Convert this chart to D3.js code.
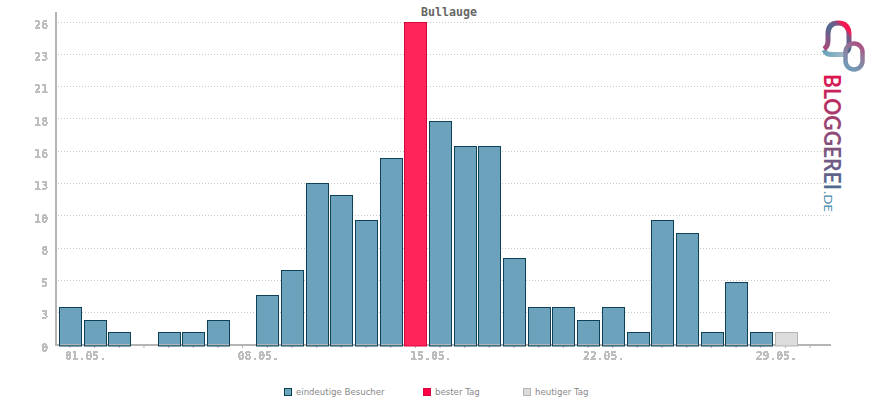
<!DOCTYPE html>
<html>
<head>
<meta charset="utf-8">
<script src="https://cdn.jsdelivr.net/npm/d3@7"></script>
<style>
    html, body { margin: 0; padding: 0; background: #fff; }
    svg { display: block; }
</style>
</head>
<body>
<svg id="chart" width="870" height="400"></svg>
<script>
const width = 870;
const height = 400;

const days = d3.range(1, 32);
const visitors = [3, 2, 1, 0, 1, 1, 2, 0, 4, 6, 13, 12, 10, 15, 26, 18, 16, 16, 7, 3, 3, 2, 3, 1, 10, 9, 1, 5, 1, 1, 0];
const yTicks = [0, 2.6, 5.2, 7.8, 10.4, 13, 15.6, 18.2, 20.8, 23.4, 26];
const xLabels = { 1: "01.05.", 8: "08.05.", 15: "15.05.", 22: "22.05.", 29: "29.05." };
const bestDay = 15;
const today = 30;
const legendItems = ["eindeutige Besucher", "bester Tag", "heutiger Tag"];

const colors = {
    normal: ["#6ca2bb", "#0f4256"],
    best: ["#ff2459", "#d3063f"],
    today: ["#dcdcdc", "#b4b4b4"]
};
const kind = d => d === bestDay ? "best" : d === today ? "today" : "normal";
const mono = "DejaVu Sans Mono";

const svg = d3.select("#chart");
const defs = svg.append("defs");

// hard edged text, the original has no antialiasing
const crisp = defs.append("filter")
    .attr("id", "crisp")
    .attr("x", "-10%").attr("y", "-30%")
    .attr("width", "120%").attr("height", "160%");
crisp.append("feComponentTransfer")
    .append("feFuncA")
    .attr("type", "discrete")
    .attr("tableValues", "0 1 1");

const x = d3.scaleBand()
    .domain(days)
    .range([57.6, 822.4])
    .paddingInner(0.12)
    .paddingOuter(0.06);

const y = d3.scaleLinear()
    .domain([0, 26])
    .range([345, 22]);

// Grid
svg.append("g")
    .selectAll("line")
    .data(yTicks.slice(1))
    .enter().append("line")
    .attr("x1", 58)
    .attr("x2", 830)
    .attr("y1", d => Math.floor(y(d)) + 0.5)
    .attr("y2", d => Math.floor(y(d)) + 0.5)
    .attr("stroke", "#c8c8c8")
    .attr("stroke-dasharray", "1,2");

// X axis
const xAxis = svg.append("g")
    .attr("transform", "translate(0,345)")
    .call(d3.axisBottom(x).tickSize(3).tickPadding(4).tickFormat(d => xLabels[d] || ""));
xAxis.select(".domain").remove();
xAxis.selectAll("line").attr("stroke", "#b4b4b4");
xAxis.selectAll("text")
    .attr("text-anchor", "start")
    .attr("dx", -5)
    .attr("fill", "#bebebe")
    .attr("font-size", 11.4)
    .attr("font-weight", "bold")
    .attr("font-family", mono)
    .attr("filter", "url(#crisp)");

svg.append("line")
    .attr("x1", 55).attr("x2", 831)
    .attr("y1", y(0)).attr("y2", y(0))
    .attr("stroke", "#b4b4b4")
    .attr("stroke-width", 2);

// Y axis
const yAxis = svg.append("g")
    .attr("transform", "translate(56,0)")
    .call(d3.axisLeft(y).tickValues(yTicks).tickSize(0).tickPadding(8).tickFormat(d => Math.round(d)));
yAxis.select(".domain").remove();
yAxis.selectAll("text")
    .attr("fill", "#bebebe")
    .attr("font-size", 11.4)
    .attr("font-weight", "bold")
    .attr("dy", "0.55em")
    .attr("font-family", mono)
    .attr("filter", "url(#crisp)");

svg.append("line")
    .attr("x1", 56).attr("x2", 56)
    .attr("y1", 12).attr("y2", 346)
    .attr("stroke", "#b4b4b4")
    .attr("stroke-width", 2);

// Bars
const shown = days.filter((d, i) => visitors[i] > 0);
svg.append("g")
    .selectAll("rect")
    .data(shown)
    .enter().append("rect")
    .attr("x", d => Math.round(x(d)) + 0.5)
    .attr("y", d => Math.floor(y(visitors[d - 1])) + 0.5)
    .attr("width", d => Math.round(x.bandwidth()))
    .attr("height", d => 345.5 - Math.floor(y(visitors[d - 1])))
    .attr("fill", d => colors[kind(d)][0])
    .attr("stroke", d => colors[kind(d)][1]);

// axis shows through at the foot of the bars
svg.append("g")
    .selectAll("line")
    .data(shown.filter(d => kind(d) === "normal"))
    .enter().append("line")
    .attr("x1", d => Math.round(x(d)) + 1)
    .attr("x2", d => Math.round(x(d)) + Math.round(x.bandwidth()))
    .attr("y1", 344.5)
    .attr("y2", 344.5)
    .attr("stroke", "#b4b4b4");

// Title
svg.append("text")
    .attr("x", 449)
    .attr("y", 16)
    .attr("text-anchor", "middle")
    .attr("font-family", mono)
    .attr("font-size", 11.6)
    .attr("font-weight", "bold")
    .attr("fill", "#666")
    .text("Bullauge");

// Legend
const legendX = d3.scaleOrdinal().domain(legendItems).range([284, 423, 523]);
const legendKinds = ["normal", "best", "today"];
const legend = svg.append("g")
    .selectAll("g")
    .data(legendItems)
    .enter().append("g")
    .attr("transform", d => `translate(${legendX(d)},0)`);
legend.append("rect")
    .attr("x", 0.5).attr("y", 388.5)
    .attr("width", 7).attr("height", 7)
    .attr("fill", (d, i) => i === 1 ? "#ff0044" : colors[legendKinds[i]][0])
    .attr("stroke", (d, i) => colors[legendKinds[i]][1]);
legend.append("text")
    .attr("x", 12)
    .attr("y", 395)
    .attr("font-family", "DejaVu Sans")
    .attr("font-size", 8.6)
    .attr("fill", "#888")
    .text(d => d);

// Logo
function gradient(id, x1, y1, x2, y2, stops) {
    const g = defs.append("linearGradient")
        .attr("id", id)
        .attr("gradientUnits", "userSpaceOnUse")
        .attr("x1", x1).attr("y1", y1).attr("x2", x2).attr("y2", y2);
    stops.forEach(s => g.append("stop").attr("offset", s[0]).attr("stop-color", s[1]));
}
gradient("bubble", 826, 48, 851, 25, [[0, "#a8487a"], [0.5, "#4f6b90"], [0.72, "#7a5585"], [0.85, "#ff1450"], [1, "#ee1650"]]);
gradient("tail", 821, 50, 846, 56, [[0, "#5f9fb8"], [1, "#a9bcc9"]]);
gradient("ring", 845, 70, 863, 44, [[0, "#6ba3bc"], [0.6, "#8d7d9c"], [1, "#b0477c"]]);
gradient("word", 0, 0, 116, 0, [[0, "#e0134e"], [0.5, "#904a78"], [1, "#4f6a90"]]);

const logo = svg.append("g").attr("fill", "none");
logo.append("path")
    .attr("d", "M824,50 C826,54 828,54.5 832,54.5 H845")
    .attr("stroke", "url(#tail)")
    .attr("stroke-width", 5);
logo.append("path")
    .attr("d", "M824,49 C827,47 828,45 828,41 V34 C828,26 832,23 838,23 C845,23 849,27 849,35 V47 C849,50 848,51 846,52")
    .attr("stroke", "url(#bubble)")
    .attr("stroke-width", 5);
logo.append("rect")
    .attr("x", 845.5).attr("y", 43.5)
    .attr("width", 17).attr("height", 26)
    .attr("rx", 8.5)
    .attr("stroke", "url(#ring)")
    .attr("stroke-width", 4.5);

const word = svg.append("g").attr("transform", "translate(824,74) rotate(90)");
word.append("text")
    .attr("font-family", "Lato")
    .attr("font-weight", "bold")
    .attr("font-size", 22)
    .attr("textLength", 116)
    .attr("lengthAdjust", "spacingAndGlyphs")
    .attr("fill", "url(#word)")
    .text("BLOGGEREI");
word.append("text")
    .attr("x", 117)
    .attr("font-family", "Lato")
    .attr("font-size", 11)
    .attr("textLength", 21)
    .attr("lengthAdjust", "spacingAndGlyphs")
    .attr("fill", "#4a8cab")
    .text(".DE");
</script>
</body>
</html>
